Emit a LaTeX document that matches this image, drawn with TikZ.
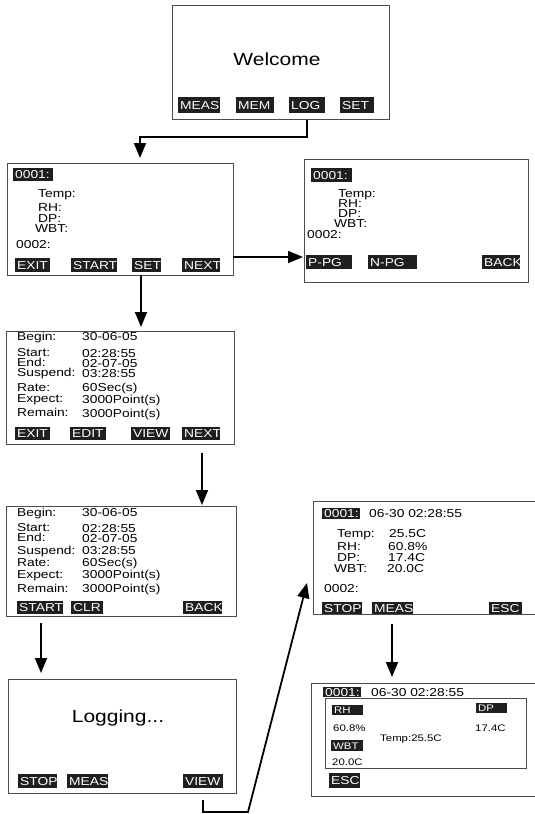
\documentclass[tikz,border=0pt]{standalone}
\usepackage{fontspec}
\newfontfamily\lcd[FakeStretch=1.2]{Liberation Sans}
\usetikzlibrary{arrows.meta}
\tikzset{
 scr/.style={draw=black!70, line width=1.1pt, anchor=north west, inner sep=0, fill=none},
 btnbox/.style={fill=black!88, anchor=north west, inner sep=0, draw=none},
 btntxt/.style={text=white, anchor=base west, inner sep=0, font=\lcd\fontsize{11.5}{11.5}\selectfont},
 sbtntxt/.style={text=white, anchor=base west, inner sep=0, font=\lcd\fontsize{9.5}{9.5}\selectfont},
 txt/.style={anchor=base west, inner sep=0, font=\lcd\fontsize{11.5}{11.5}\selectfont},
 stxt/.style={anchor=base west, inner sep=0, font=\lcd\fontsize{9.5}{9.5}\selectfont},
 bigtxt/.style={anchor=base, inner sep=0, font=\lcd\fontsize{17.5}{17.5}\selectfont},
 arr/.style={line width=1.8pt, -{Triangle[length=15pt,width=12pt]}},
}
% name x y w h text
\newcommand\btn[6]{%
 \node[btnbox, minimum width=#4pt, minimum height=#5pt] (#1) at (#2,#3) {};
 \node[btntxt] (#1t) at (#2+2,#3+#5/2+4) {#6};}
\newcommand\sbtn[6]{%
 \node[btnbox, minimum width=#4pt, minimum height=#5pt] (#1) at (#2,#3) {};
 \node[sbtntxt] (#1t) at (#2+2,#3+#5/2+3.5) {#6};}
\begin{document}
\begin{tikzpicture}[x=1pt,y=-1pt]
\useasboundingbox (0,0) rectangle (535,814);
\clip (0,0) rectangle (535,814);

% ---- Welcome
\node[scr, minimum width=217pt, minimum height=114pt] (w) at (172,5) {};
\node[bigtxt] (wt) at (277,65) {Welcome};
\btn{measw}{178}{97}{42}{16}{MEAS}
\btn{memw}{236}{97}{38}{16}{MEM}
\btn{logb}{289}{97}{36}{16}{LOG}
\btn{setw}{340}{97}{34}{16}{SET}

% ---- Box 2
\node[scr, minimum width=226pt, minimum height=112pt] (b2) at (7,163) {};
\btn{id2}{13}{168}{40}{13}{0001:}
\node[txt] (t2a) at (38,197) {Temp:};
\node[txt] (t2b) at (38,211) {RH:};
\node[txt] (t2c) at (38,222) {DP:};
\node[txt] (t2d) at (35,232) {WBT:};
\node[txt] (t2e) at (16,248) {0002:};
\btn{exit2}{15}{258}{35}{14}{EXIT}
\btn{start2}{71}{258}{46}{14}{START}
\btn{set2}{132}{258}{29}{14}{SET}
\btn{next2}{182}{258}{38}{14}{NEXT}

% ---- Box 3
\node[scr, minimum width=224pt, minimum height=123pt] (b3) at (304,159) {};
\btn{id3}{311}{168}{41}{14}{0001:}
\node[txt] (t3a) at (338,197) {Temp:};
\node[txt] (t3b) at (338,207) {RH:};
\node[txt] (t3c) at (338,217) {DP:};
\node[txt] (t3d) at (334,227) {WBT:};
\node[txt] (t3e) at (307,238) {0002:};
\btn{ppg}{306}{255}{46}{14}{P-PG}
\btn{npg}{368}{255}{49}{14}{N-PG}
\btn{back3}{482}{255}{38}{14}{BACK}

% ---- Box 4
\node[scr, minimum width=228pt, minimum height=113pt] (b4) at (6,331) {};
\node[txt] (l4a) at (17,340) {Begin:};
\node[txt] (l4b) at (17,356) {Start:};
\node[txt] (l4c) at (17,366) {End:};
\node[txt] (l4d) at (17,376) {Suspend:};
\node[txt] (l4e) at (17,391) {Rate:};
\node[txt] (l4f) at (17,402) {Expect:};
\node[txt] (l4g) at (17,416) {Remain:};
\node[txt] (v4a) at (82,340) {30-06-05};
\node[txt] (v4b) at (82,357) {02:28:55};
\node[txt] (v4c) at (82,367) {02-07-05};
\node[txt] (v4d) at (82,377) {03:28:55};
\node[txt] (v4e) at (82,391) {60Sec(s)};
\node[txt] (v4f) at (82,403) {3000Point(s)};
\node[txt] (v4g) at (82,417) {3000Point(s)};
\btn{exit4}{15}{427}{35}{13}{EXIT}
\btn{edit4}{70}{427}{36}{13}{EDIT}
\btn{view4}{131}{427}{39}{13}{VIEW}
\btn{next4}{182}{427}{38}{13}{NEXT}

% ---- Box 5
\node[scr, minimum width=230pt, minimum height=110pt] (b5) at (6,506) {};
\node[txt] (l5a) at (17,516) {Begin:};
\node[txt] (l5b) at (17,531) {Start:};
\node[txt] (l5c) at (17,541) {End:};
\node[txt] (l5d) at (17,554) {Suspend:};
\node[txt] (l5e) at (17,566) {Rate:};
\node[txt] (l5f) at (17,578) {Expect:};
\node[txt] (l5g) at (17,592) {Remain:};
\node[txt] (v5a) at (82,516) {30-06-05};
\node[txt] (v5b) at (82,532) {02:28:55};
\node[txt] (v5c) at (82,542) {02-07-05};
\node[txt] (v5d) at (82,554) {03:28:55};
\node[txt] (v5e) at (82,566) {60Sec(s)};
\node[txt] (v5f) at (82,578) {3000Point(s)};
\node[txt] (v5g) at (82,592) {3000Point(s)};
\btn{start5}{17}{601}{46}{13}{START}
\btn{clr5}{71}{601}{32}{13}{CLR}
\btn{back5}{183}{601}{39}{13}{BACK}

% ---- Box 6
\node[scr, minimum width=228pt, minimum height=114pt] (b6) at (8,679) {};
\node[bigtxt] (lt) at (118,722) {Logging...};
\btn{stop6}{18}{774}{39}{14}{STOP}
\btn{meas6}{67}{774}{41}{14}{MEAS}
\btn{view6}{183}{774}{40}{14}{VIEW}

% ---- Box 7
\node[scr, minimum width=240pt, minimum height=113pt] (b7) at (313,501) {};
\btn{id7}{322}{508}{38}{11}{0001:}
\node[txt] (d7) at (369,517) {06-30 02:28:55};
\node[txt] (l7a) at (337,537) {Temp:};
\node[txt] (l7b) at (337,550) {RH:};
\node[txt] (l7c) at (337,561) {DP:};
\node[txt] (l7d) at (334,572) {WBT:};
\node[txt] (v7a) at (389,537) {25.5C};
\node[txt] (v7b) at (388,550) {60.8\%};
\node[txt] (v7c) at (388,561) {17.4C};
\node[txt] (v7d) at (387,572) {20.0C};
\node[txt] (l7e) at (324,592) {0002:};
\btn{stop7}{322}{602}{40}{12}{STOP}
\btn{meas7}{372}{602}{41}{12}{MEAS}
\btn{esc7}{489}{602}{33}{12}{ESC}

% ---- Box 8
\node[scr, minimum width=240pt, minimum height=113pt] (b8) at (311,683) {};
\btn{id8}{323}{687}{38}{10}{0001:}
\node[txt] (d8) at (371,696) {06-30 02:28:55};
\node[scr, line width=1pt, minimum width=201pt, minimum height=70pt] (in8) at (325,698) {};
\sbtn{rh8}{332}{705}{31}{10}{RH}
\sbtn{dp8}{476}{703}{31}{10}{DP}
\sbtn{wbt8}{331}{740}{32}{11}{WBT}
\node[stxt] (v8a) at (333,731) {60.8\%};
\node[stxt] (v8b) at (475,731) {17.4C};
\node[stxt] (v8c) at (380,741) {Temp:25.5C};
\node[stxt] (v8d) at (332,765) {20.0C};
\btn{esc8}{329}{773}{31}{15}{ESC}

% ---- connectors
\coordinate (j1) at (140,137);
\coordinate (b2in) at (140,158);
\draw[arr] (w.south -| logb) |- (j1) -- (b2in);

\coordinate (a2s) at (233,257);
\coordinate (a2e) at (303,257);
\draw[arr] (a2s) -- (a2e);

\coordinate (a3s) at (141,275);
\coordinate (a3e) at (141,327);
\draw[arr] (a3s) -- (a3e);

\coordinate (a4s) at (202,453);
\coordinate (a4e) at (202,505);
\draw[arr] (a4s) -- (a4e);

\coordinate (a5s) at (41,623);
\coordinate (a5e) at (41,673);
\draw[arr] (a5s) -- (a5e);

\coordinate (a6s) at (203,800);
\coordinate (a6b) at (203,812);
\coordinate (a6c) at (248,812);
\coordinate (a6e) at (307,583);
\draw[arr] (a6s) -- (a6b) -- (a6c) -- (a6e);

\coordinate (a7s) at (392,624);
\coordinate (a7e) at (392,677);
\draw[arr] (a7s) -- (a7e);
\end{tikzpicture}
\end{document}
